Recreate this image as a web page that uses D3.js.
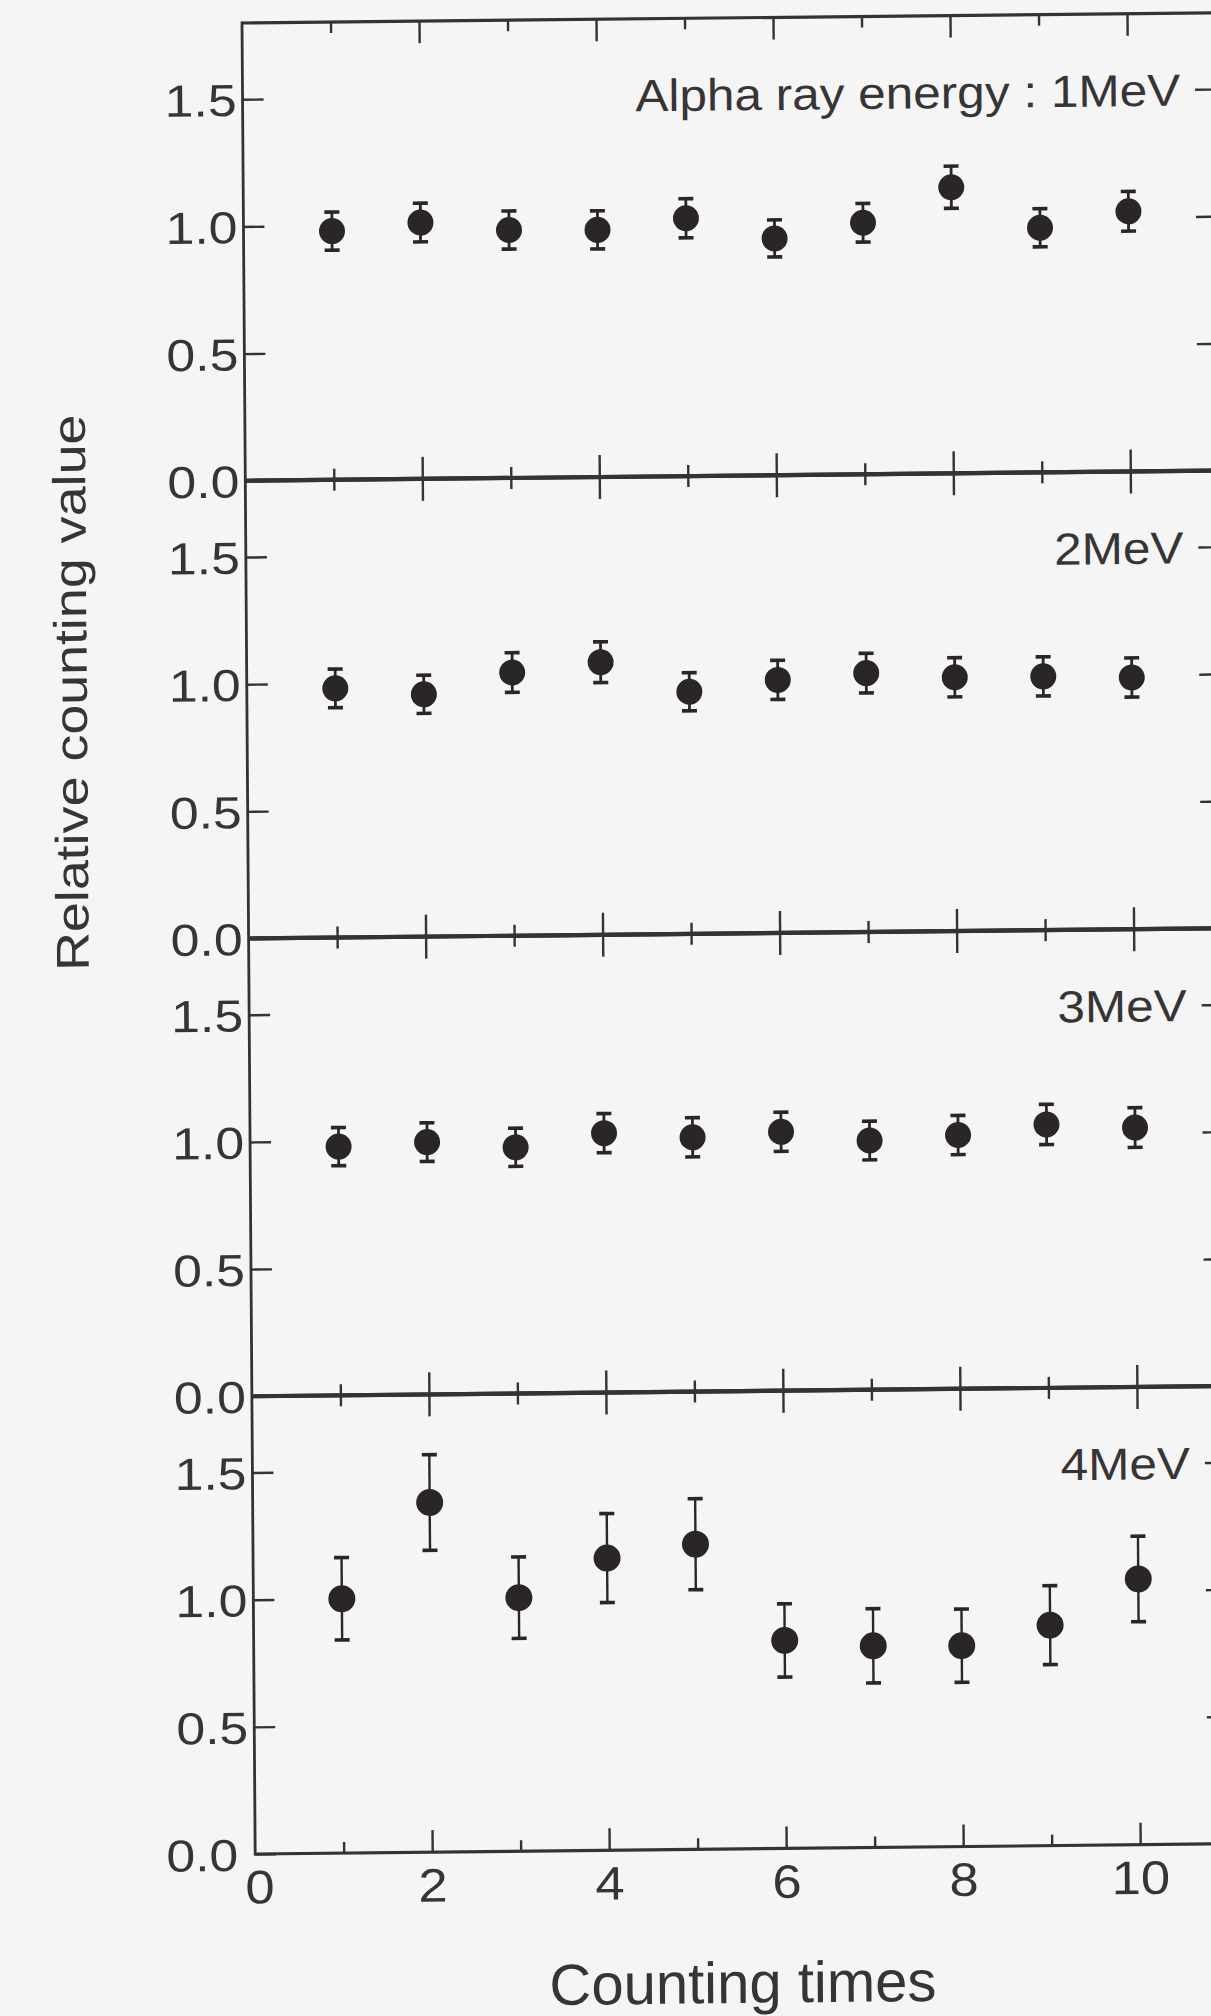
<!DOCTYPE html>
<html>
<head>
<meta charset="utf-8">
<script src="https://cdn.jsdelivr.net/npm/d3@7"></script>
<style>
  html, body { margin: 0; padding: 0; background: #f6f5f6; }
  svg { display: block; }
  text { font-family: "Liberation Sans", Arial, Helvetica, sans-serif; fill: #363435; }
</style>
</head>
<body>
<svg id="chart" width="1211" height="2016"></svg>
<script>
// ---- data ----
const countingTimes = [1, 2, 3, 4, 5, 6, 7, 8, 9, 10];
const energyLabels = ["Alpha ray energy : 1MeV", "2MeV", "3MeV", "4MeV"];

const values1MeV = [0.978, 1.008, 0.975, 0.972, 1.014, 0.931, 0.989, 1.125, 0.962, 1.023];
const errors1MeV = [0.075, 0.076, 0.075, 0.075, 0.077, 0.073, 0.076, 0.083, 0.075, 0.078];

const values2MeV = [0.980, 0.953, 1.035, 1.072, 0.952, 0.995, 1.018, 0.998, 0.998, 0.990];
const errors2MeV = [0.076, 0.075, 0.078, 0.080, 0.075, 0.077, 0.078, 0.077, 0.077, 0.077];

const values3MeV = [0.978, 0.992, 0.968, 1.020, 1.000, 1.018, 0.980, 0.998, 1.036, 1.020];
const errors3MeV = [0.075, 0.076, 0.075, 0.077, 0.077, 0.077, 0.076, 0.077, 0.079, 0.078];

const values4MeV = [1.000, 1.375, 0.997, 1.149, 1.200, 0.818, 0.793, 0.790, 0.867, 1.045];
const errors4MeV = [0.162, 0.188, 0.160, 0.175, 0.179, 0.144, 0.146, 0.144, 0.155, 0.168];

const yTickValues = [0, 0.5, 1.0, 1.5];
const xMajorTicks = [0, 2, 4, 6, 8, 10];
const xMinorTicks = [1, 3, 5, 7, 9];

const xTitle = "Counting times";
const yTitle = "Relative counting value";

// ---- layout ----
const panels = [
  { label: energyLabels[0], values: values1MeV, errors: errors1MeV },
  { label: energyLabels[1], values: values2MeV, errors: errors2MeV },
  { label: energyLabels[2], values: values3MeV, errors: errors3MeV },
  { label: energyLabels[3], values: values4MeV, errors: errors4MeV }
];

const plotW = 973.5;
const panelH = 457.75;
const ink = "#343233";
const dotColor = "#2a2627";
const font = "'Liberation Sans', Arial, Helvetica, sans-serif";

const x = d3.scaleLinear().domain([0, 11]).range([0, plotW]);
const y = d3.scaleLinear().domain([0, 1.8]).range([panelH, 0]);

const svg = d3.select("#chart");
// the whole figure sits slightly skewed on the page
const root = svg.append("g")
  .attr("transform", "translate(242,23) matrix(1,-0.0105,0.0072,1,0,0)");

function styleAxis(g) {
  g.select(".domain").remove();
  g.selectAll(".tick line").attr("stroke", ink).attr("stroke-width", 2.4);
}

panels.forEach((p, i) => {
  const g = root.append("g").attr("transform", `translate(0,${i * panelH})`);
  const last = i === panels.length - 1;

  // x ticks on the top edge (pointing down into the panel)
  g.append("g").call(d3.axisTop(x).tickValues(xMajorTicks.filter(d => d > 0))
      .tickSizeInner(-22).tickSizeOuter(0).tickFormat(""))
    .call(styleAxis);
  g.append("g").call(d3.axisTop(x).tickValues(xMinorTicks)
      .tickSizeInner(-11).tickSizeOuter(0).tickFormat(""))
    .call(styleAxis);

  // x ticks on the bottom edge (pointing up)
  g.append("g").attr("transform", `translate(0,${panelH})`)
    .call(d3.axisBottom(x).tickValues(xMajorTicks.filter(d => d > 0))
      .tickSizeInner(-22).tickSizeOuter(0).tickFormat(""))
    .call(styleAxis);
  g.append("g").attr("transform", `translate(0,${panelH})`)
    .call(d3.axisBottom(x).tickValues(xMinorTicks)
      .tickSizeInner(-11).tickSizeOuter(0).tickFormat(""))
    .call(styleAxis);

  // left axis with labels
  const sY = 1.15;
  const left = g.append("g")
    .call(d3.axisLeft(y).tickValues(yTickValues).tickSizeInner(-21).tickSizeOuter(0)
      .tickFormat(d3.format(".1f")))
    .call(styleAxis);
  left.selectAll(".tick text")
    .attr("x", d => (last && d === 0 ? -17 : -6) / sY)
    .attr("dy", "0.36em")
    .attr("transform", `scale(${sY},1)`)
    .attr("font-size", 45)
    .attr("font-family", font)
    .attr("fill", ink);

  // right axis ticks
  g.append("g").attr("transform", `translate(${plotW},0)`)
    .call(d3.axisRight(y).tickValues(yTickValues.filter(d => d > 0))
      .tickSizeInner(-21).tickSizeOuter(0).tickFormat(""))
    .call(styleAxis);

  // frame lines
  g.append("line").attr("x1", 0).attr("x2", plotW + 4).attr("y1", 0).attr("y2", 0)
    .attr("stroke", ink).attr("stroke-width", i === 0 ? 3.2 : 4.2);
  g.append("line").attr("x1", 0).attr("x2", plotW + 4).attr("y1", panelH).attr("y2", panelH)
    .attr("stroke", ink).attr("stroke-width", last ? 3.2 : 4.2);
  g.append("line").attr("x1", plotW).attr("x2", plotW).attr("y1", 0).attr("y2", panelH)
    .attr("stroke", ink).attr("stroke-width", 3);

  // energy label
  g.append("text")
    .attr("transform", `translate(${plotW - 36},${y(1.5)}) scale(1.1,1)`)
    .attr("dy", "0.36em")
    .attr("text-anchor", "end")
    .attr("font-size", 45)
    .text(p.label);

  // error bars
  const pts = countingTimes.map((t, k) => ({ t, v: p.values[k], e: p.errors[k] }));
  const bars = g.append("g").attr("stroke", dotColor).attr("stroke-width", last ? 2.4 : 2.8);
  bars.selectAll("line.stem").data(pts).join("line").attr("class", "stem")
    .attr("x1", d => x(d.t)).attr("x2", d => x(d.t))
    .attr("y1", d => y(d.v - d.e)).attr("y2", d => y(d.v + d.e));
  bars.selectAll("line.capHi").data(pts).join("line").attr("class", "capHi")
    .attr("x1", d => x(d.t) - 7.5).attr("x2", d => x(d.t) + 7.5)
    .attr("y1", d => y(d.v + d.e)).attr("y2", d => y(d.v + d.e))
    .attr("stroke-width", 3.6);
  bars.selectAll("line.capLo").data(pts).join("line").attr("class", "capLo")
    .attr("x1", d => x(d.t) - 7.5).attr("x2", d => x(d.t) + 7.5)
    .attr("y1", d => y(d.v - d.e)).attr("y2", d => y(d.v - d.e))
    .attr("stroke-width", 3.6);

  // points
  g.append("g").selectAll("circle").data(pts).join("circle")
    .attr("cx", d => x(d.t)).attr("cy", d => y(d.v))
    .attr("r", last ? 13.5 : 13)
    .attr("fill", dotColor);

  // bottom-most axis labels
  if (last) {
    const sX = 1.12;
    const bottom = g.append("g").attr("transform", `translate(0,${panelH})`)
      .call(d3.axisBottom(x).tickValues(xMajorTicks).tickSize(0).tickFormat(d3.format("d")))
      .call(styleAxis);
    bottom.selectAll(".tick text")
      .attr("x", d => (d === 0 ? 4 : 0) / sX)
      .attr("y", 16).attr("dy", "0.71em")
      .attr("transform", `scale(${sX},1)`)
      .attr("font-size", 47)
      .attr("font-family", font)
      .attr("fill", ink);
  }
});

// left spine over the full height
root.append("line")
  .attr("x1", 0).attr("x2", 0).attr("y1", -1.5).attr("y2", panelH * panels.length + 1.5)
  .attr("stroke", ink).attr("stroke-width", 2.8);

// axis titles
root.append("text")
  .attr("transform", `translate(-160,668) rotate(-90) scale(1.17,1)`)
  .attr("text-anchor", "middle")
  .attr("font-size", 46)
  .text(yTitle);

root.append("text")
  .attr("x", x(5.5))
  .attr("y", panelH * panels.length + 154)
  .attr("text-anchor", "middle")
  .attr("font-size", 58)
  .text(xTitle);
</script>
</body>
</html>
